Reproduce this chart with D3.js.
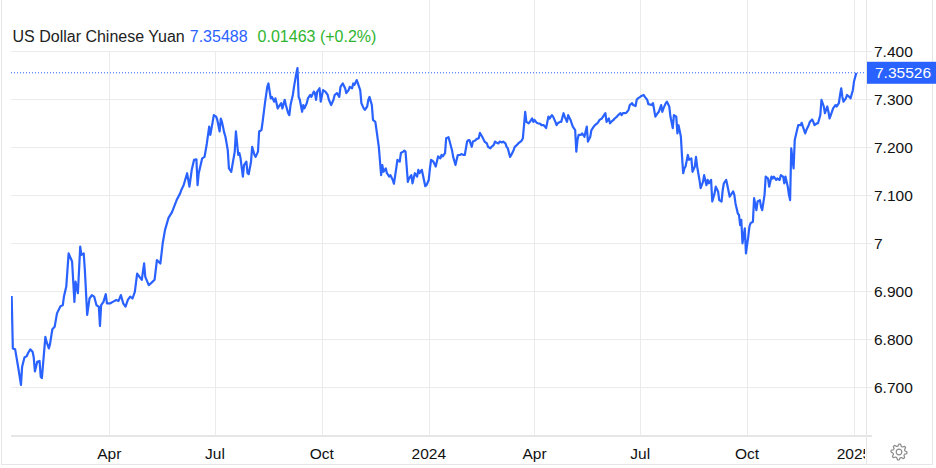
<!DOCTYPE html>
<html>
<head>
<meta charset="utf-8">
<script src="https://cdn.jsdelivr.net/npm/d3@7"></script>
<style>
  html, body { margin: 0; padding: 0; background: #fff; }
  svg { display: block; font-family: "Liberation Sans", Arial, Helvetica, sans-serif; }
</style>
</head>
<body>
<svg id="chart" width="936" height="468"></svg>
<script>
// Series: USD/CNY, day offsets from start date and rates
const startDate = "2023-01-01";
const days = [
  6, 7, 9, 12, 14, 15, 17, 19, 20, 22, 24, 25, 26, 28, 30, 31, 32, 35, 36, 38,
  39, 41, 43, 45, 48, 50, 51, 53, 54, 55, 58, 60, 61, 63, 65, 66, 68, 69, 71, 73,
  75, 77, 79, 81, 82, 83, 85, 87, 88, 91, 93, 96, 98, 100, 102, 104, 106, 108, 110, 112,
  114, 116, 118, 120, 121, 124, 126, 129, 131, 134, 136, 138, 141, 144, 148, 151, 152, 154, 157, 159,
  161, 163, 165, 166, 167, 170, 172, 174, 176, 177, 179, 180, 182, 183, 185, 186, 187, 189, 190, 192,
  193, 195, 196, 198, 199, 201, 202, 203, 205, 206, 208, 209, 210, 212, 213, 215, 216, 218, 219, 221,
  222, 224, 226, 227, 229, 230, 232, 233, 235, 236, 238, 239, 241, 242, 244, 245, 246, 248, 249, 251,
  252, 253, 254, 256, 257, 258, 260, 261, 263, 264, 266, 267, 268, 269, 271, 272, 274, 276, 278, 279,
  281, 283, 284, 286, 288, 289, 291, 293, 294, 296, 297, 299, 300, 301, 303, 304, 306, 307, 309, 310,
  312, 313, 314, 316, 317, 319, 320, 322, 324, 325, 326, 328, 329, 331, 332, 334, 335, 337, 338, 340,
  341, 343, 344, 345, 347, 348, 350, 351, 353, 355, 356, 357, 359, 360, 362, 363, 365, 366, 367, 369,
  371, 373, 375, 376, 377, 379, 380, 382, 383, 385, 386, 388, 389, 390, 392, 393, 395, 396, 398, 399,
  400, 402, 403, 405, 406, 408, 409, 411, 412, 413, 415, 416, 418, 419, 421, 422, 423, 425, 426, 428,
  429, 431, 432, 433, 435, 436, 438, 439, 441, 442, 444, 445, 446, 448, 449, 451, 452, 454, 455, 456,
  458, 459, 461, 462, 464, 465, 466, 468, 469, 471, 472, 474, 475, 476, 478, 479, 481, 482, 484, 485,
  487, 488, 489, 491, 492, 493, 494, 496, 497, 499, 500, 501, 502, 504, 505, 507, 508, 510, 511, 512,
  514, 515, 517, 518, 520, 521, 522, 524, 525, 527, 528, 530, 531, 532, 534, 535, 537, 538, 540, 541,
  543, 544, 545, 547, 548, 550, 551, 553, 554, 557, 558, 560, 562, 563, 565, 566, 567, 569, 570, 572,
  573, 575, 576, 578, 579, 580, 582, 583, 584, 585, 586, 588, 589, 591, 592, 594, 595, 596, 598, 599,
  601, 602, 604, 605, 606, 608, 609, 611, 612, 614, 615, 617, 618, 619, 621, 622, 624, 625, 627, 628,
  629, 631, 632, 633, 634, 635, 637, 638, 640, 641, 642, 644, 645, 647, 648, 650, 651, 652, 654, 655,
  657, 658, 660, 661, 662, 664, 665, 667, 668, 670, 671, 672, 674, 675, 676, 677, 679, 680, 682, 683,
  685, 686, 687, 689, 690, 692, 693, 695, 696, 697, 699, 700, 702, 703, 705, 706, 708, 709, 710, 712,
  713, 715, 716, 718, 719, 720, 721, 722, 724, 725, 727, 728, 730, 731, 733
];
const rates = [
  6.890, 6.781, 6.779, 6.736, 6.705, 6.743, 6.762, 6.765, 6.771, 6.779, 6.774, 6.762, 6.733, 6.753, 6.755, 6.722, 6.719, 6.805, 6.795, 6.781,
  6.790, 6.821, 6.826, 6.854, 6.869, 6.871, 6.889, 6.910, 6.944, 6.979, 6.962, 6.878, 6.920, 6.896, 6.993, 6.976, 6.979, 6.944, 6.851, 6.885,
  6.892, 6.889, 6.871, 6.868, 6.828, 6.871, 6.878, 6.894, 6.875, 6.875, 6.878, 6.882, 6.880, 6.892, 6.875, 6.868, 6.882, 6.889, 6.885, 6.899,
  6.937, 6.930, 6.924, 6.958, 6.930, 6.913, 6.917, 6.924, 6.965, 6.958, 7.000, 7.028, 7.053, 7.065, 7.090, 7.104, 7.111, 7.121, 7.146, 7.118,
  7.153, 7.174, 7.175, 7.121, 7.146, 7.177, 7.180, 7.208, 7.243, 7.226, 7.253, 7.267, 7.264, 7.257, 7.233, 7.260, 7.253, 7.230, 7.222, 7.194,
  7.156, 7.149, 7.163, 7.191, 7.233, 7.184, 7.188, 7.177, 7.139, 7.163, 7.170, 7.146, 7.144, 7.170, 7.201, 7.184, 7.180, 7.191, 7.233, 7.236,
  7.253, 7.292, 7.326, 7.333, 7.302, 7.305, 7.295, 7.302, 7.281, 7.285, 7.292, 7.281, 7.299, 7.288, 7.271, 7.267, 7.288, 7.309, 7.326, 7.354,
  7.365, 7.305, 7.299, 7.274, 7.288, 7.281, 7.292, 7.302, 7.309, 7.305, 7.316, 7.313, 7.299, 7.316, 7.323, 7.295, 7.319, 7.316, 7.309, 7.299,
  7.288, 7.299, 7.309, 7.313, 7.305, 7.326, 7.333, 7.323, 7.313, 7.319, 7.326, 7.323, 7.333, 7.330, 7.340, 7.333, 7.319, 7.292, 7.281, 7.278,
  7.285, 7.299, 7.305, 7.288, 7.257, 7.253, 7.236, 7.201, 7.142, 7.163, 7.149, 7.156, 7.146, 7.139, 7.142, 7.132, 7.124, 7.156, 7.174, 7.170,
  7.188, 7.191, 7.193, 7.191, 7.128, 7.135, 7.142, 7.125, 7.146, 7.139, 7.153, 7.146, 7.153, 7.142, 7.119, 7.121, 7.132, 7.156, 7.174, 7.170,
  7.160, 7.181, 7.177, 7.184, 7.181, 7.188, 7.219, 7.221, 7.212, 7.194, 7.180, 7.163, 7.174, 7.184, 7.184, 7.186, 7.184, 7.184, 7.212, 7.215,
  7.215, 7.201, 7.212, 7.214, 7.217, 7.219, 7.230, 7.222, 7.217, 7.212, 7.208, 7.201, 7.198, 7.201, 7.205, 7.212, 7.210, 7.208, 7.212, 7.210,
  7.212, 7.208, 7.201, 7.198, 7.180, 7.184, 7.194, 7.201, 7.205, 7.208, 7.212, 7.214, 7.219, 7.274, 7.253, 7.250, 7.253, 7.260, 7.253, 7.257,
  7.251, 7.250, 7.249, 7.246, 7.246, 7.243, 7.240, 7.264, 7.260, 7.267, 7.264, 7.253, 7.246, 7.250, 7.253, 7.253, 7.271, 7.264, 7.253, 7.267,
  7.257, 7.250, 7.243, 7.236, 7.191, 7.215, 7.226, 7.226, 7.229, 7.222, 7.233, 7.243, 7.212, 7.222, 7.236, 7.243, 7.246, 7.250, 7.253, 7.257,
  7.260, 7.264, 7.271, 7.253, 7.260, 7.250, 7.253, 7.257, 7.260, 7.264, 7.267, 7.271, 7.267, 7.271, 7.271, 7.272, 7.278, 7.288, 7.292, 7.288,
  7.286, 7.299, 7.302, 7.305, 7.307, 7.309, 7.305, 7.299, 7.290, 7.288, 7.292, 7.264, 7.271, 7.274, 7.288, 7.274, 7.281, 7.292, 7.295, 7.285,
  7.264, 7.240, 7.267, 7.264, 7.229, 7.246, 7.222, 7.180, 7.146, 7.156, 7.160, 7.184, 7.174, 7.177, 7.149, 7.160, 7.180, 7.160, 7.132, 7.115,
  7.128, 7.142, 7.121, 7.132, 7.125, 7.132, 7.087, 7.104, 7.118, 7.108, 7.090, 7.087, 7.111, 7.125, 7.132, 7.121, 7.097, 7.101, 7.108, 7.101,
  7.083, 7.062, 7.059, 7.038, 7.049, 7.000, 7.031, 6.979, 7.014, 7.035, 7.042, 7.045, 7.094, 7.069, 7.087, 7.090, 7.076, 7.069, 7.101, 7.139,
  7.135, 7.118, 7.139, 7.135, 7.139, 7.132, 7.135, 7.132, 7.142, 7.139, 7.125, 7.139, 7.118, 7.101, 7.090, 7.198, 7.156, 7.215, 7.236, 7.246,
  7.246, 7.251, 7.243, 7.229, 7.236, 7.246, 7.253, 7.258, 7.253, 7.246, 7.250, 7.250, 7.267, 7.299, 7.285, 7.271, 7.285, 7.274, 7.260, 7.274,
  7.281, 7.288, 7.285, 7.292, 7.309, 7.323, 7.305, 7.295, 7.302, 7.309, 7.305, 7.302, 7.319, 7.337, 7.355
];

const lastPrice = 7.35526;
const titleName = "US Dollar Chinese Yuan";
const headlinePrice = "7.35488";
const headlineChange = "0.01463 (+0.2%)";

const yTicks = [6.7, 6.8, 6.9, 7, 7.1, 7.2, 7.3, 7.4];
const xTicks = ["2023-04-01", "2023-07-01", "2023-10-01", "2024-01-01",
                "2024-04-01", "2024-07-01", "2024-10-01", "2025-01-01"];
const xDomain = ["2023-01-01", "2025-01-01"];

// Colours
const lineColor = "#2962ff";
const gridColor = "#ebebeb";
const textColor = "#111";
const changeColor = "#2fb52f";

const width = 936, height = 468;
const plot = { left: 11, right: 866, top: 0, bottom: 436 };

const parse = d3.utcParse("%Y-%m-%d");
const start = parse(startDate);
const data = days.map((d, i) => ({ date: d3.utcDay.offset(start, d), value: rates[i] }));

const svg = d3.select("#chart");

// Scales
const x = d3.scaleUtc()
    .domain(xDomain.map(parse))
    .range([4.7, 854]);

const y = d3.scaleLinear()
    .domain([6.7, 7.4])
    .range([387.3, 51.3]);

svg.append("rect").attr("width", width).attr("height", height).attr("fill", "#fff");

// Vertical grid
svg.append("g")
    .selectAll("line")
    .data(xTicks.map(parse))
    .join("line")
    .attr("x1", d => Math.round(x(d)) + 0.5)
    .attr("x2", d => Math.round(x(d)) + 0.5)
    .attr("y1", plot.top)
    .attr("y2", plot.bottom)
    .attr("stroke", gridColor);

// Horizontal grid
svg.append("g")
    .selectAll("line")
    .data(yTicks)
    .join("line")
    .attr("x1", plot.left)
    .attr("x2", 872)
    .attr("y1", d => Math.round(y(d)) + 0.5)
    .attr("y2", d => Math.round(y(d)) + 0.5)
    .attr("stroke", gridColor);

// Title area hides the grid behind it
svg.append("rect")
    .attr("x", 0).attr("y", 0)
    .attr("width", 398).attr("height", Math.round(y(7.4)))
    .attr("fill", "#fff");

// Plot / axis separator and frame
svg.append("line")
    .attr("x1", plot.right + 0.5).attr("x2", plot.right + 0.5)
    .attr("y1", 0).attr("y2", 464)
    .attr("stroke", "#e6e6e6");
svg.append("rect")
    .attr("x", 1.5).attr("y", -2)
    .attr("width", 931).attr("height", 466.5)
    .attr("fill", "none")
    .attr("stroke", "#e6e6e6");

// x axis line
svg.append("line")
    .attr("x1", plot.left).attr("x2", 872)
    .attr("y1", plot.bottom).attr("y2", plot.bottom)
    .attr("stroke", "#e6e6e6")
    .attr("stroke-width", 2);

// Last price dotted line
svg.append("line")
    .attr("x1", plot.left).attr("x2", plot.right)
    .attr("y1", y(lastPrice)).attr("y2", y(lastPrice))
    .attr("stroke", lineColor)
    .attr("stroke-width", 1)
    .attr("stroke-dasharray", "1,2");

// Line
svg.append("defs").append("clipPath").attr("id", "plot-clip")
    .append("rect")
    .attr("x", plot.left).attr("y", 0)
    .attr("width", plot.right - plot.left).attr("height", plot.bottom);

const line = d3.line()
    .x(d => x(d.date))
    .y(d => y(d.value));

svg.append("path")
    .datum(data)
    .attr("clip-path", "url(#plot-clip)")
    .attr("fill", "none")
    .attr("stroke", lineColor)
    .attr("stroke-width", 2.2)
    .attr("stroke-linejoin", "round")
    .attr("d", line);

// Y labels
const yFormat = v => v === 7 ? "7" : d3.format(".3f")(v);
svg.append("g")
    .selectAll("text")
    .data(yTicks)
    .join("text")
    .attr("x", 874)
    .attr("y", d => y(d))
    .attr("dy", "0.36em")
    .attr("font-size", 15.5)
    .attr("fill", textColor)
    .text(yFormat);

// Last price badge
const badge = svg.append("g").attr("transform", `translate(867, ${y(lastPrice)})`);
badge.append("rect")
    .attr("x", 0).attr("y", -11)
    .attr("width", 69).attr("height", 22)
    .attr("fill", lineColor);
badge.append("text")
    .attr("x", 8).attr("dy", "0.36em")
    .attr("font-size", 15.5)
    .attr("fill", "#fff")
    .text(d3.format(".5f")(lastPrice));

// X labels (clipped at the separator)
svg.select("defs").append("clipPath").attr("id", "xlabel-clip")
    .append("rect")
    .attr("x", 0).attr("y", plot.bottom)
    .attr("width", plot.right - 1).attr("height", 30);

const xFormat = d => d.getUTCMonth() === 0 ? d3.utcFormat("%Y")(d) : d3.utcFormat("%b")(d);
svg.append("g")
    .attr("clip-path", "url(#xlabel-clip)")
    .selectAll("text")
    .data(xTicks.map(parse))
    .join("text")
    .attr("x", d => x(d))
    .attr("y", 453)
    .attr("dy", "0.36em")
    .attr("text-anchor", "middle")
    .attr("font-size", 15.5)
    .attr("fill", textColor)
    .text(xFormat);

// Title
const title = svg.append("text")
    .attr("x", 12.5)
    .attr("y", 42)
    .attr("font-size", 16);
title.append("tspan").attr("fill", "#222").text(titleName);
title.append("tspan").attr("dx", 5).attr("fill", lineColor).text(headlinePrice);
title.append("tspan").attr("dx", 10).attr("fill", changeColor).text(headlineChange);

// Settings gear
const gear = d3.path();
const teeth = 8, rOut = 8, rIn = 6;
for (let i = 0; i < teeth * 4; i++) {
  const a = (i / (teeth * 4)) * 2 * Math.PI;
  const r = (Math.floor(i / 2) % 2 === 0) ? rOut : rIn;
  const px = r * Math.cos(a), py = r * Math.sin(a);
  if (i === 0) gear.moveTo(px, py); else gear.lineTo(px, py);
}
gear.closePath();
const g = svg.append("g").attr("transform", "translate(899, 452)");
g.append("path").attr("d", gear.toString())
    .attr("fill", "none").attr("stroke", "#8a8a8a").attr("stroke-width", 1.2)
    .attr("stroke-linejoin", "round");
g.append("circle").attr("r", 2.8)
    .attr("fill", "none").attr("stroke", "#8a8a8a").attr("stroke-width", 1.2);
</script>
</body>
</html>
